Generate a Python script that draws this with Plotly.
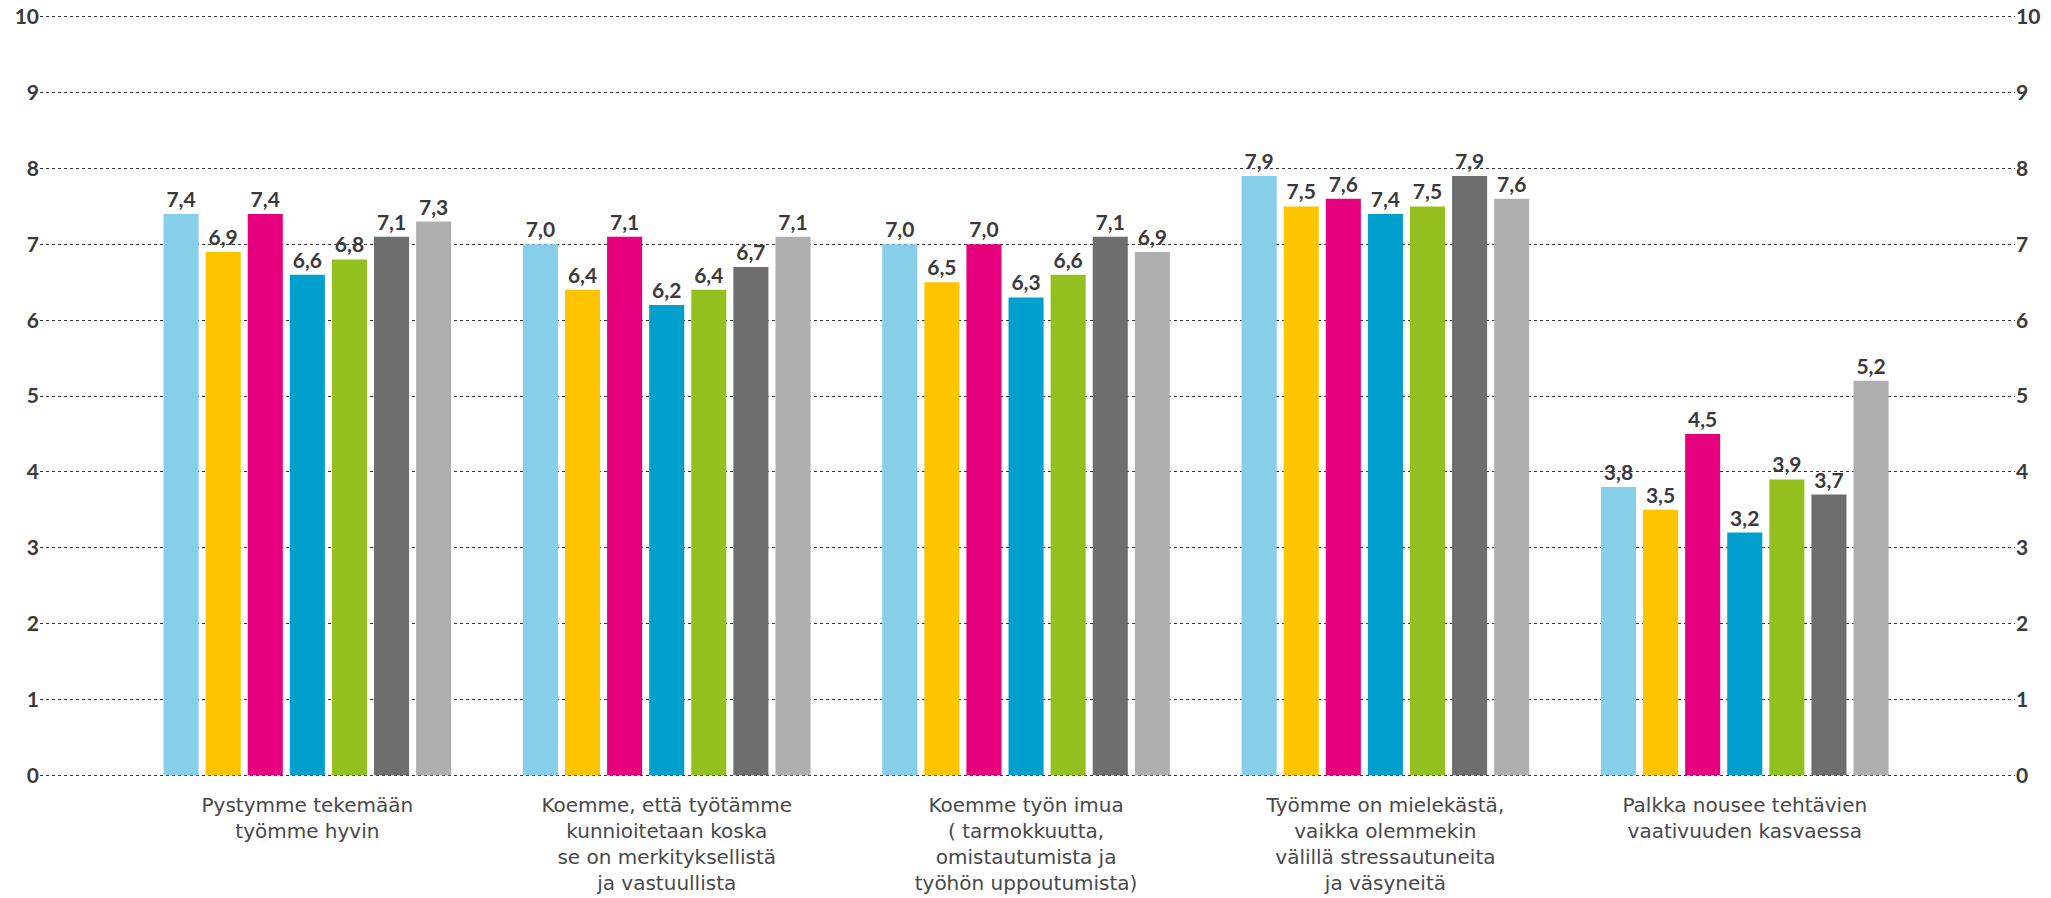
import plotly.graph_objects as go

categories = [
    "Pystymme tekemään<br>työmme hyvin",
    "Koemme, että työtämme<br>kunnioitetaan koska<br>se on merkityksellistä<br>ja vastuullista",
    "Koemme työn imua<br>( tarmokkuutta,<br>omistautumista ja<br>työhön uppoutumista)",
    "Työmme on mielekästä,<br>vaikka olemmekin<br>välillä stressautuneita<br>ja väsyneitä",
    "Palkka nousee tehtävien<br>vaativuuden kasvaessa",
]
series_names = ["Sarja 1", "Sarja 2", "Sarja 3", "Sarja 4", "Sarja 5", "Sarja 6", "Sarja 7"]
s1 = [7.4, 7.0, 7.0, 7.9, 3.8]
s2 = [6.9, 6.4, 6.5, 7.5, 3.5]
s3 = [7.4, 7.1, 7.0, 7.6, 4.5]
s4 = [6.6, 6.2, 6.3, 7.4, 3.2]
s5 = [6.8, 6.4, 6.6, 7.5, 3.9]
s6 = [7.1, 6.7, 7.1, 7.9, 3.7]
s7 = [7.3, 7.1, 6.9, 7.6, 5.2]
series_values = [s1, s2, s3, s4, s5, s6, s7]
colors = ["#87CEE8", "#FFC400", "#E6007E", "#009FCE", "#93C01F", "#6E6E6E", "#AFAFAF"]
y_ticks = list(range(0, 11))

num_font = dict(family="Lato", size=21, color="#3a3a3a", weight="bold")

fig = go.Figure()
for name, vals, col in zip(series_names, series_values, colors):
    fig.add_trace(go.Bar(
        x=categories, y=vals, name=name, marker_color=col, marker_line_width=0,
        text=[f"{v:.1f}".replace(".", ",") for v in vals],
        textposition="outside", cliponaxis=False,
        textfont=num_font,
    ))
# invisible trace for right axis
fig.add_trace(go.Scatter(x=[categories[0]], y=[0], yaxis="y2", mode="markers",
                         marker=dict(opacity=0), showlegend=False, hoverinfo="skip"))

yr = [-0.05, 10.05]
fig.update_layout(
    width=2051, height=898,
    margin=dict(l=40, r=36, t=13, b=119),
    paper_bgcolor="white", plot_bgcolor="white",
    barmode="group", bargap=0.18, bargroupgap=0.167,
    showlegend=False,
    font=dict(family="DejaVu Sans", color="#404040"),
    xaxis=dict(type="category", range=[-0.744, 4.752], showgrid=False, zeroline=False,
               showline=False, ticks="", ticklabelstandoff=12, automargin=False,
               tickfont=dict(family="DejaVu Sans", size=20, color="#484848")),
    yaxis=dict(range=yr, tickvals=y_ticks, showgrid=True, gridcolor="#333333",
               griddash="dot", gridwidth=1, zeroline=False, showline=False, ticks="",
               automargin=False, tickfont=num_font),
    yaxis2=dict(range=yr, tickvals=y_ticks, overlaying="y", side="right",
                showgrid=False, zeroline=False, showline=False, ticks="",
                automargin=False, tickfont=num_font),
)
fig.write_html("out.html")
